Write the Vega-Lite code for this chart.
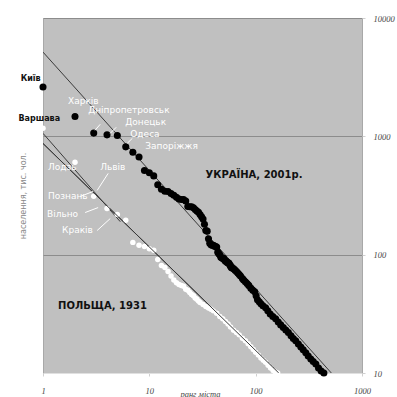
{
  "$schema": "https://vega.github.io/schema/vega-lite/v6.json",
  "width": 319,
  "height": 355,
  "autosize": "none",
  "padding": {"left": 43, "top": 18, "right": 35, "bottom": 24},
  "background": "white",
  "config": {
    "view": {"fill": "#c0c0c0", "stroke": "#a8a8a8"},
    "font": "DejaVu Sans"
  },
  "datasets": {
    "ua": [
      {"rank": 1, "pop": 2611}, {"rank": 2, "pop": 1470}, {"rank": 3, "pop": 1065}, {"rank": 4, "pop": 1029}, {"rank": 5, "pop": 1016},
      {"rank": 6, "pop": 815}, {"rank": 7, "pop": 733}, {"rank": 8, "pop": 669}, {"rank": 9, "pop": 514}, {"rank": 10, "pop": 492},
      {"rank": 11, "pop": 463}, {"rank": 12, "pop": 390}, {"rank": 13, "pop": 357}, {"rank": 14, "pop": 344}, {"rank": 15, "pop": 342},
      {"rank": 16, "pop": 328}, {"rank": 17, "pop": 318}, {"rank": 18, "pop": 305}, {"rank": 19, "pop": 295}, {"rank": 20, "pop": 293},
      {"rank": 21, "pop": 292}, {"rank": 22, "pop": 284}, {"rank": 23, "pop": 255}, {"rank": 24, "pop": 254}, {"rank": 25, "pop": 254},
      {"rank": 26, "pop": 249}, {"rank": 27, "pop": 241}, {"rank": 28, "pop": 234}, {"rank": 29, "pop": 228}, {"rank": 30, "pop": 218},
      {"rank": 31, "pop": 209}, {"rank": 32, "pop": 200}, {"rank": 33, "pop": 181}, {"rank": 34, "pop": 160}, {"rank": 35, "pop": 158},
      {"rank": 36, "pop": 136}, {"rank": 37, "pop": 125}, {"rank": 38, "pop": 121}, {"rank": 39, "pop": 120}, {"rank": 40, "pop": 120},
      {"rank": 41, "pop": 118}, {"rank": 42, "pop": 117}, {"rank": 43, "pop": 116}, {"rank": 44, "pop": 105}, {"rank": 45, "pop": 102},
      {"rank": 46, "pop": 100}, {"rank": 47, "pop": 95}, {"rank": 48, "pop": 94}, {"rank": 49, "pop": 93}, {"rank": 50, "pop": 93},
      {"rank": 51, "pop": 90}, {"rank": 52, "pop": 88}, {"rank": 53, "pop": 88}, {"rank": 54, "pop": 86}, {"rank": 55, "pop": 85},
      {"rank": 56, "pop": 85}, {"rank": 57, "pop": 82}, {"rank": 58, "pop": 80}, {"rank": 59, "pop": 78}, {"rank": 60, "pop": 77},
      {"rank": 62, "pop": 76}, {"rank": 64, "pop": 74}, {"rank": 66, "pop": 72}, {"rank": 68, "pop": 70}, {"rank": 70, "pop": 68},
      {"rank": 72, "pop": 66}, {"rank": 75, "pop": 63}, {"rank": 77, "pop": 61}, {"rank": 80, "pop": 59}, {"rank": 83, "pop": 57},
      {"rank": 86, "pop": 55}, {"rank": 90, "pop": 52}, {"rank": 94, "pop": 50}, {"rank": 98, "pop": 48.5}, {"rank": 101, "pop": 45},
      {"rank": 104, "pop": 41.6}, {"rank": 108, "pop": 40}, {"rank": 112, "pop": 38.5}, {"rank": 117, "pop": 37}, {"rank": 124, "pop": 35.6},
      {"rank": 130, "pop": 33.5}, {"rank": 137, "pop": 31.5}, {"rank": 145, "pop": 30}, {"rank": 154, "pop": 28.7}, {"rank": 163, "pop": 27},
      {"rank": 172, "pop": 25.5}, {"rank": 182, "pop": 24.2}, {"rank": 192, "pop": 23.1}, {"rank": 203, "pop": 22}, {"rank": 215, "pop": 20.6},
      {"rank": 226, "pop": 19.6}, {"rank": 238, "pop": 18.7}, {"rank": 252, "pop": 17.6}, {"rank": 266, "pop": 16.6}, {"rank": 280, "pop": 15.7},
      {"rank": 296, "pop": 14.8}, {"rank": 312, "pop": 13.9}, {"rank": 330, "pop": 13.1}, {"rank": 348, "pop": 12.5}, {"rank": 368, "pop": 11.9},
      {"rank": 390, "pop": 11}, {"rank": 413, "pop": 10.4}, {"rank": 438, "pop": 10}
    ],
    "pl": [
      {"rank": 1, "pop": 1171}, {"rank": 2, "pop": 605}, {"rank": 3, "pop": 312}, {"rank": 4, "pop": 246}, {"rank": 5, "pop": 219},
      {"rank": 6, "pop": 195}, {"rank": 7, "pop": 127}, {"rank": 8, "pop": 120}, {"rank": 9, "pop": 117}, {"rank": 10, "pop": 112},
      {"rank": 11, "pop": 109}, {"rank": 12, "pop": 91}, {"rank": 13, "pop": 81}, {"rank": 14, "pop": 78}, {"rank": 15, "pop": 72},
      {"rank": 16, "pop": 66}, {"rank": 17, "pop": 61}, {"rank": 18, "pop": 58}, {"rank": 19, "pop": 56}, {"rank": 20, "pop": 55},
      {"rank": 21, "pop": 54}, {"rank": 22, "pop": 51}, {"rank": 23, "pop": 50}, {"rank": 24, "pop": 48}, {"rank": 25, "pop": 46},
      {"rank": 26, "pop": 45}, {"rank": 27, "pop": 43}, {"rank": 28, "pop": 42}, {"rank": 29, "pop": 40.5}, {"rank": 30, "pop": 39.5},
      {"rank": 32, "pop": 38}, {"rank": 34, "pop": 36.5}, {"rank": 36, "pop": 35.5}, {"rank": 38, "pop": 34.5}, {"rank": 40, "pop": 33.5},
      {"rank": 43, "pop": 32}, {"rank": 46, "pop": 30}, {"rank": 49, "pop": 28.7}, {"rank": 52, "pop": 27.3}, {"rank": 55, "pop": 26},
      {"rank": 58, "pop": 24.5}, {"rank": 62, "pop": 23}, {"rank": 66, "pop": 22}, {"rank": 70, "pop": 21}, {"rank": 75, "pop": 19.7},
      {"rank": 80, "pop": 18.7}, {"rank": 85, "pop": 17.7}, {"rank": 90, "pop": 16.7}, {"rank": 95, "pop": 15.8}, {"rank": 100, "pop": 15},
      {"rank": 106, "pop": 14.2}, {"rank": 112, "pop": 13.4}, {"rank": 118, "pop": 12.8}, {"rank": 124, "pop": 12.3}, {"rank": 131, "pop": 11.6},
      {"rank": 138, "pop": 11}, {"rank": 146, "pop": 10.5}, {"rank": 153, "pop": 10.2}, {"rank": 161, "pop": 10}
    ],
    "fit": [
      {"line": "ua", "rank": 1, "pop": 5150}, {"line": "ua", "rank": 515, "pop": 10},
      {"line": "plA", "rank": 1, "pop": 1060}, {"line": "plA", "rank": 5.33, "pop": 190},
      {"line": "plB", "rank": 1, "pop": 870}, {"line": "plB", "rank": 165, "pop": 10}
    ],
    "darkLabels": [
      {"text": "Київ", "rank": 0.95, "pop": 3040},
      {"text": "Варшава", "rank": 1.446, "pop": 1393}
    ],
    "whiteLabels": [
      {"text": "Харків", "rank": 1.72, "pop": 1980},
      {"text": "Дніпропетровськ", "rank": 2.66, "pop": 1660},
      {"text": "Донецьк", "rank": 5.94, "pop": 1315},
      {"text": "Одеса", "rank": 6.62, "pop": 1040},
      {"text": "Запоріжжя", "rank": 9.17, "pop": 823},
      {"text": "Львів", "rank": 3.45, "pop": 546},
      {"text": "Лодзь", "rank": 1.115, "pop": 546},
      {"text": "Познань", "rank": 1.115, "pop": 316},
      {"text": "Вільно", "rank": 1.09, "pop": 222},
      {"text": "Краків", "rank": 1.51, "pop": 163}
    ],
    "titles": [
      {"text": "УКРАЇНА, 2001р.", "rank": 33.8, "pop": 467},
      {"text": "ПОЛЬЩА, 1931", "rank": 1.385, "pop": 37}
    ],
    "arrows": [
      {"rank": 4.10, "pop": 486, "rank2": 3.23, "pop2": 349},
      {"rank": 3.09, "pop": 1125, "rank2": 3.45, "pop2": 1264},
      {"rank": 4.29, "pop": 1060, "rank2": 4.88, "pop2": 1192},
      {"rank": 6.2, "pop": 873, "rank2": 6.92, "pop2": 962},
      {"rank": 2.49, "pop": 227, "rank2": 3.30, "pop2": 250},
      {"rank": 3.23, "pop": 160, "rank2": 4.29, "pop2": 202},
      {"rank": 2.23, "pop": 310, "rank2": 2.96, "pop2": 342}
    ]
  },
  "encoding": {
    "x": {
      "field": "rank", "type": "quantitative",
      "scale": {"type": "log", "domain": [1, 1000], "nice": false},
      "axis": {
        "values": [1, 10, 100, 1000], "format": "d", "grid": false,
        "domain": true, "domainColor": "#e0e0e0",
        "ticks": true, "tickSize": 3, "tickColor": "#d0d0d0",
        "labelFont": "Liberation Serif", "labelFontStyle": "italic", "labelFontSize": 8.5, "labelColor": "#444",
        "labelPadding": 10, "labelFlush": false,
        "title": "ранг міста", "titleFont": "Liberation Serif", "titleFontStyle": "italic", "titleFontWeight": "normal",
        "titleFontSize": 8.5, "titleColor": "#444", "titleX": 157, "titleY": 23, "titleAnchor": "middle", "titleBaseline": "alphabetic"
      }
    },
    "y": {
      "field": "pop", "type": "quantitative",
      "scale": {"type": "log", "domain": [10, 10000], "nice": false},
      "axis": null
    }
  },
  "resolve": {"axis": {"y": "independent"}},
  "layer": [
    {
      "data": {"name": "fit"},
      "mark": {"type": "line", "color": "#3a3a3a", "strokeWidth": 1, "clip": true},
      "encoding": {
        "detail": {"field": "line"},
        "y": {
          "field": "pop", "type": "quantitative",
          "scale": {"type": "log", "domain": [10, 10000], "nice": false},
          "axis": {
            "orient": "left", "labels": false, "ticks": false, "domain": false, "grid": false,
            "title": "населення, тис. чол.", "titleFont": "DejaVu Sans", "titleFontSize": 8, "titleFontWeight": "normal", "titleColor": "#888",
            "titlePadding": 16
          }
        }
      }
    },
    {
      "data": {"name": "ua"},
      "mark": {"type": "circle", "color": "#000000", "opacity": 1, "size": 50},
      "encoding": {
        "y": {
          "field": "pop", "type": "quantitative",
          "scale": {"type": "log", "domain": [10, 10000], "nice": false},
          "axis": {
            "orient": "right", "values": [10, 100, 1000, 10000], "format": "d",
            "grid": true, "gridColor": "#8c8c8c", "gridWidth": 1,
            "domain": false, "ticks": true, "tickSize": 3, "tickColor": "#d0d0d0",
            "labelFont": "Liberation Serif", "labelFontStyle": "italic", "labelFontSize": 8.5, "labelColor": "#444",
            "labelPadding": 8, "labelFlush": false, "title": null
          }
        }
      }
    },
    {
      "data": {"name": "pl"},
      "mark": {"type": "circle", "color": "#ffffff", "opacity": 1, "size": 30}
    },
    {
      "data": {"name": "fit"},
      "transform": [{"filter": "datum.line == 'plB'"}],
      "mark": {"type": "line", "color": "#3a3a3a", "strokeWidth": 1, "clip": true}
    },
    {
      "data": {"name": "arrows"},
      "mark": {"type": "rule", "color": "#ffffff", "strokeWidth": 1},
      "encoding": {
        "x2": {"field": "rank2"},
        "y2": {"field": "pop2"}
      }
    },
    {
      "data": {"name": "darkLabels"},
      "mark": {"type": "text", "color": "#111", "fontSize": 8, "fontWeight": "bold", "align": "right", "baseline": "middle"},
      "encoding": {"text": {"field": "text"}}
    },
    {
      "data": {"name": "whiteLabels"},
      "mark": {"type": "text", "color": "#ffffff", "fontSize": 9, "align": "left", "baseline": "middle"},
      "encoding": {"text": {"field": "text"}}
    },
    {
      "data": {"name": "titles"},
      "mark": {"type": "text", "color": "#111", "fontSize": 10, "fontWeight": "bold", "align": "left", "baseline": "middle"},
      "encoding": {"text": {"field": "text"}}
    }
  ]
}
